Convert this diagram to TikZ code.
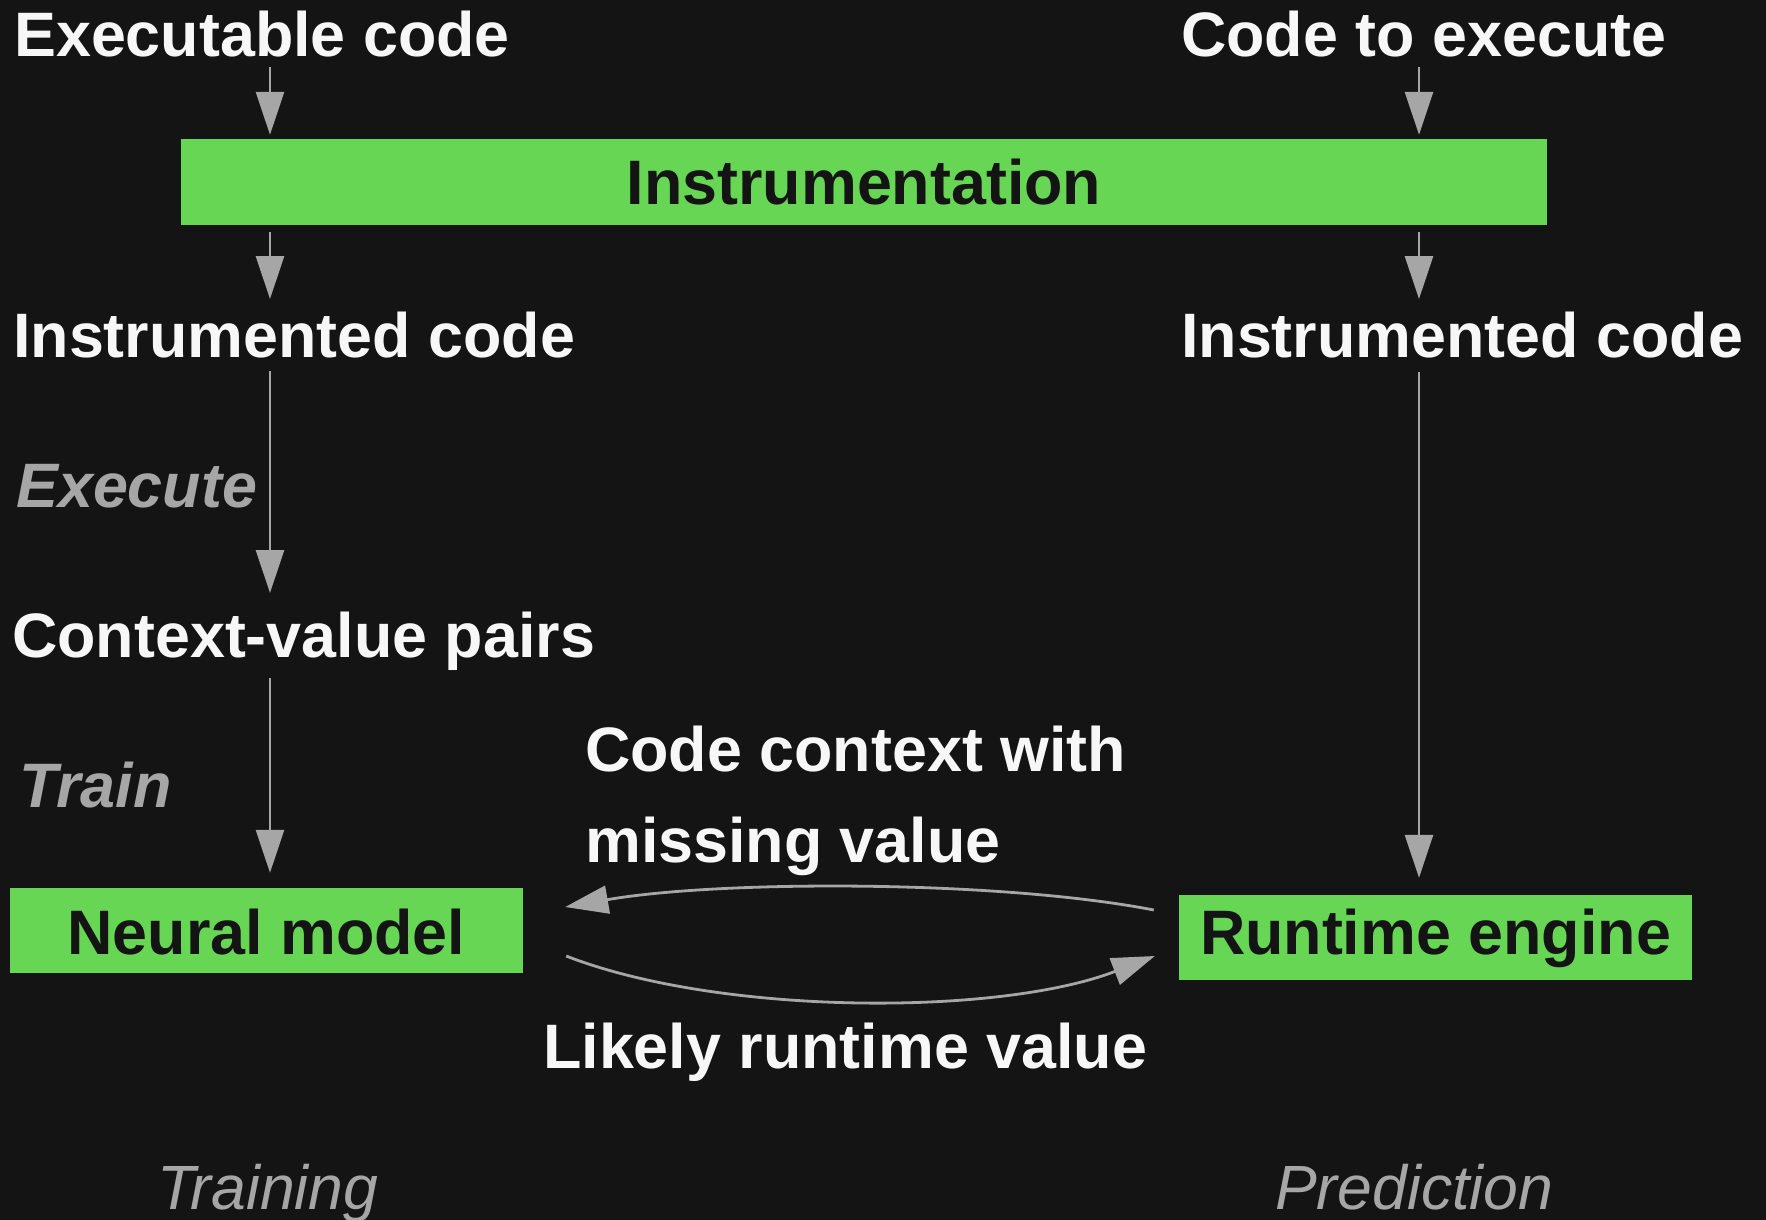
\documentclass[tikz,border=0pt]{standalone}
\usepackage{fontspec}
\setmainfont{Liberation Sans}
\usetikzlibrary{arrows.meta,calc}
\definecolor{bg}{HTML}{141414}
\definecolor{boxgreen}{HTML}{67D655}
\definecolor{ink}{HTML}{F7F7F7}
\definecolor{muted}{HTML}{A6A6A6}
\definecolor{boxtext}{HTML}{141414}
\begin{document}
\begin{tikzpicture}[x=1pt,y=-1pt,
  lbl/.style={anchor=base west, inner sep=0pt, text=ink,
    font=\fontsize{62.8}{75}\selectfont\bfseries},
  stage/.style={anchor=base west, inner sep=0pt, text=muted,
    font=\fontsize{62.8}{75}\selectfont\bfseries\itshape},
  phase/.style={anchor=base west, inner sep=0pt, text=muted,
    font=\fontsize{62.5}{75}\selectfont\itshape},
  box/.style={fill=boxgreen, inner sep=0pt, text=boxtext,
    font=\fontsize{62.8}{75}\selectfont\bfseries},
  arr/.style={draw=muted, line width=2.8pt, -{Triangle[length=43pt,width=28pt]}},
]
% canvas
\fill[bg] (0,0) rectangle (1766,1220);
\useasboundingbox (0,0) rectangle (1766,1220);

% the two arrow columns
\coordinate (colL) at (270,0);
\coordinate (colR) at (1419,0);

% inputs and shared instrumentation step
\node[lbl] (exe) at (14,57) {Executable code};
\node[lbl] (cte) at (1181,57) {Code to execute};
\node[box, minimum width=1366pt, text height=65pt, text depth=21pt] (ins) at (864,182) {Instrumentation};
\node[lbl] (icL) at (13,357) {Instrumented code};
\node[lbl] (icR) at (1181,357) {Instrumented code};

% training column
\node[stage] (execst) at (16,507) {Execute};
\node[lbl] (cvp) at (12,657) {Context-value pairs};
\node[stage] (trainst) at (19,807) {Train};
\node[box, minimum width=513pt, text height=66pt, text depth=19pt] (nm) at (266.5,930.5) {Neural model};

% prediction column
\node[box, minimum width=513pt, text height=59pt, text depth=26pt] (re) at (1435.5,937.5) {Runtime engine};

% exchange labels
\node[lbl] (ccA) at (585,771) {Code context with};
\node[lbl] (ccB) at (585,862) {missing value};
\node[lbl] (lrv) at (543,1068) {Likely runtime value};

% phase captions
\node[phase] (trn) at (157,1209) {Training};
\node[phase] (prd) at (1275,1209) {Prediction};

% vertical flow, training side
\draw[arr] ($(exe.base -| colL)+(0,10)$) -- ($(ins.north -| colL)+(0,-4)$);
\draw[arr] ($(ins.south -| colL)+(0,7)$) -- ($(icL.base -| colL)+(0,-58)$);
\draw[arr] ($(icL.base -| colL)+(0,14)$) -- ($(cvp.base -| colL)+(0,-64)$);
\draw[arr] ($(cvp.base -| colL)+(0,21)$) -- ($(nm.north -| colL)+(0,-15)$);

% vertical flow, prediction side
\draw[arr] ($(cte.base -| colR)+(0,10)$) -- ($(ins.north -| colR)+(0,-4)$);
\draw[arr] ($(ins.south -| colR)+(0,7)$) -- ($(icR.base -| colR)+(0,-58)$);
\draw[arr] ($(icR.base -| colR)+(0,15)$) -- ($(re.north -| colR)+(0,-17)$);

% query and answer between engine and model
\draw[arr] ($(re.west)+(-25,-27.5)$) .. controls +(-155,-30) and +(155,-27) .. ($(nm.east)+(42,-23.5)$);
\draw[arr] ($(nm.east)+(43,25.5)$) .. controls +(154,60) and +(-155,60) .. ($(re.west)+(-24,18.5)$);
\end{tikzpicture}
\end{document}
